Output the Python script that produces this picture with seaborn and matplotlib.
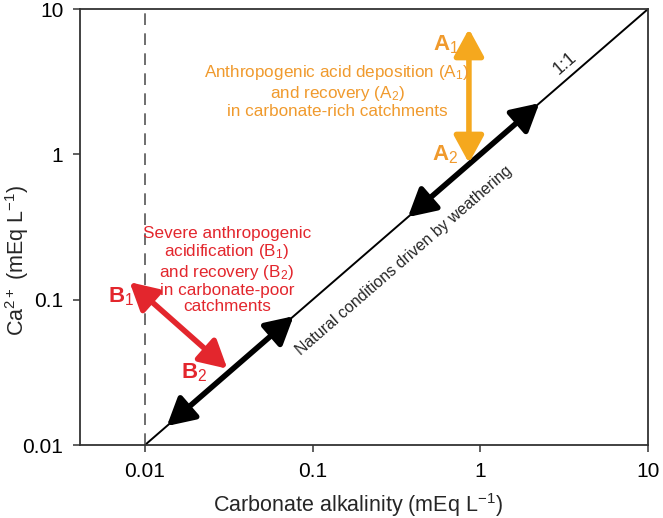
import matplotlib
matplotlib.use("Agg")
import matplotlib.pyplot as plt
import pandas as pd
import seaborn as sns

# 1:1 reference line (mEq/L)
line_x = [0.01, 10]
line_y = [0.01, 10]

# natural weathering arrows along the 1:1 line (tail, head)
natural_lo = [0.0135, 0.077]
natural_hi = [0.37, 2.25]

# acid deposition in carbonate-rich catchments (vertical arrow)
a_x = 0.855
a_y = [0.87, 7.3]

# acidification in carbonate-poor catchments (B1 -> B2)
b_x = [0.0081, 0.031]
b_y = [0.132, 0.0335]

ticks = [0.01, 0.1, 1, 10]
tick_labels = ["0.01", "0.1", "1", "10"]

ORANGE = "#f5a81e"
ORANGE_TXT = "#f09a2d"
RED = "#e3262d"

sns.set_theme(style="white")
plt.rcParams["font.family"] = ["Liberation Sans", "DejaVu Sans"]
plt.rcParams["mathtext.fontset"] = "custom"
plt.rcParams["mathtext.rm"] = "Liberation Sans"
plt.rcParams["mathtext.it"] = "Liberation Sans"
plt.rcParams["mathtext.bf"] = "Liberation Sans:bold"

fig = plt.figure(figsize=(6.63, 5.18), dpi=100)
ax = fig.add_axes([0.1207, 0.1409, 0.8567, 0.8417])

df = pd.DataFrame({"x": line_x, "y": line_y})
sns.lineplot(data=df, x="x", y="y", color="black", lw=1.4, ax=ax)
ax.axvline(0.01, color="#555555", lw=1.2, dashes=(7, 5))

ax.set_xscale("log")
ax.set_yscale("log")
ax.set_xlim(0.0041, 10)
ax.set_ylim(0.01, 10)
ax.set_xticks(ticks)
ax.set_xticklabels(tick_labels)
ax.set_yticks(ticks)
ax.set_yticklabels(tick_labels)
ax.minorticks_off()
ax.tick_params(axis="both", which="major", direction="out", length=5, width=1.2,
               color="#444444", labelsize=15, pad=7, labelcolor="black",
               bottom=True, left=True)
for s in ax.spines.values():
    s.set_color("#333333")
    s.set_linewidth(1.3)

ax.set_xlabel("Carbonate alkalinity (mEq L$^{-1}$)", fontsize=15.5)
ax.set_ylabel("Ca$^{2+}$ (mEq L$^{-1}$)", fontsize=15.5)
ax.xaxis.set_label_coords(0.49, -0.105)
ax.yaxis.set_label_coords(-0.086, 0.424)


def dbl_arrow(p0, p1, color):
    ax.annotate("", xy=p1, xytext=p0,
                arrowprops=dict(arrowstyle="<|-|>,head_length=1.1,head_width=0.6",
                                color=color, lw=4, mutation_scale=15,
                                shrinkA=0, shrinkB=0))


dbl_arrow((natural_lo[0], natural_lo[0]), (natural_lo[1], natural_lo[1]), "black")
dbl_arrow((natural_hi[0], natural_hi[0]), (natural_hi[1], natural_hi[1]), "black")
dbl_arrow((a_x, a_y[0]), (a_x, a_y[1]), ORANGE)
dbl_arrow((b_x[1], b_y[1]), (b_x[0], b_y[0]), RED)

ang = 40.9
ax.text(3.19, 4.25, "1:1", rotation=ang, fontsize=13, ha="center", va="center",
        rotation_mode="anchor")
ax.text(0.35, 0.187, "Natural conditions driven by weathering", rotation=ang,
        fontsize=11.5, ha="center", va="center", rotation_mode="anchor")

ax.text(0.62, 5.7, "A$_1$", color=ORANGE_TXT, fontsize=16, fontweight="bold",
        ha="center", va="center")
ax.text(0.62, 1.0, "A$_2$", color=ORANGE_TXT, fontsize=16, fontweight="bold",
        ha="center", va="center")
ax.text(0.0072, 0.105, "B$_1$", color=RED, fontsize=16, fontweight="bold",
        ha="center", va="center")
ax.text(0.0195, 0.0312, "B$_2$", color=RED, fontsize=16, fontweight="bold",
        ha="center", va="center")

ax.text(0.14, 2.73, "Anthropogenic acid deposition (A$_1$)\nand recovery (A$_2$)\n"
        "in carbonate-rich catchments", color=ORANGE_TXT, fontsize=12.3,
        ha="center", va="center", linespacing=1.1)
ax.text(0.0308, 0.16, "Severe anthropogenic\nacidification (B$_1$)\n"
        "and recovery (B$_2$)\nin carbonate-poor\ncatchments", color=RED,
        fontsize=12.3, ha="center", va="center", linespacing=1.1)

fig.savefig("out.png", dpi=100)
